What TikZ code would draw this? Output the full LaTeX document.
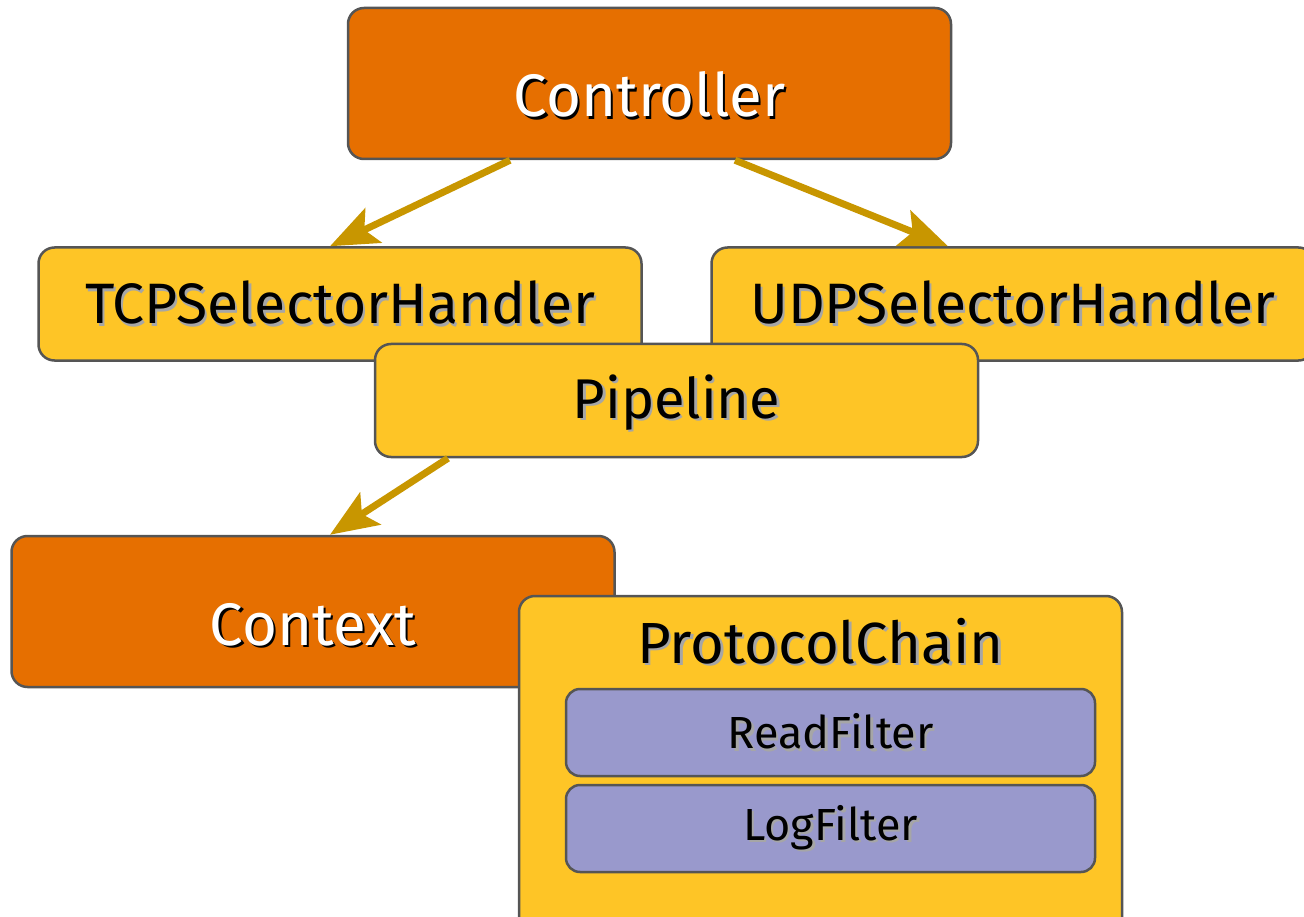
\documentclass[tikz,border=0pt]{standalone}
\usepackage{fontspec}
\setmainfont{Fira Sans}
\usetikzlibrary{arrows.meta}
\definecolor{boxorange}{HTML}{E66F00}
\definecolor{boxyellow}{HTML}{FEC526}
\definecolor{boxlilac}{HTML}{9999CC}
\definecolor{flowgold}{HTML}{C89600}
\definecolor{edgegray}{HTML}{555555}
% text with a small drop shadow
\newcommand{\shadowed}[2]{\makebox[0pt][l]{\hspace*{2.5pt}\raisebox{-2.5pt}{\textcolor{#1}{#2}}}#2}
\tikzset{
  basebox/.style={draw=edgegray, line width=2.5pt, rounded corners=16pt, inner sep=0pt},
  mainbox/.style={basebox, fill=boxorange, text=white, minimum width=603pt, minimum height=151pt,
    font=\fontsize{60}{72}\selectfont, text height=67pt, text depth=0pt},
  handlerbox/.style={basebox, fill=boxyellow, text=black, minimum width=603pt, minimum height=113pt,
    font=\fontsize{57}{68}\selectfont},
  filterbox/.style={basebox, fill=boxlilac, text=black, minimum width=529pt, minimum height=87pt,
    font=\fontsize{45}{54}\selectfont, rounded corners=14pt},
  flow/.style={-{Stealth[length=48pt,width=38pt,inset=10pt]}, line width=7pt, draw=flowgold},
}
\begin{document}
\begin{tikzpicture}[x=1pt,y=-1pt]
	\useasboundingbox (0,0) rectangle (1304,917);
	\clip (0,0) rectangle (1304,917);
	% the controller and its handlers
	\node[mainbox] (controller) at (649.5,83.5) {\shadowed{black}{Controller}};
	\node[handlerbox] (tcp) at (340,304) {\shadowed{black!35}{TCPSelectorHandler}};
	\node[handlerbox] (udp) at (1013,304) {\shadowed{black!35}{UDPSelectorHandler}};
	\node[handlerbox, font=\fontsize{56}{67}\selectfont, text depth=8pt] (pipeline) at (676.5,400.5) {\shadowed{black!35}{Pipeline}};
	\draw[flow] ([xshift=-139.5pt]controller.south) -- ([xshift=-10pt]tcp.north);
	\draw[flow] ([xshift=85.5pt]controller.south) -- ([xshift=-65pt]udp.north);
	% the context
	\node[mainbox] (context) at (313,611.5) {\shadowed{black}{Context}};
	\draw[flow] ([xshift=-228.5pt]pipeline.south) -- ([xshift=17pt]context.north);
	% the protocol chain with its filters
	\node[basebox, fill=boxyellow, minimum width=603pt, minimum height=360pt] (chain) at (820.5,776) {};
	\node[font=\fontsize{58}{70}\selectfont] (chaintitle) at (820.5,642) {\shadowed{black!35}{ProtocolChain}};
	\node[filterbox] (readfilter) at (830.5,732.5) {\shadowed{black!35}{ReadFilter}};
	\node[filterbox] (logfilter) at (830.5,828.5) {\shadowed{black!35}{LogFilter}};
\end{tikzpicture}
\end{document}
